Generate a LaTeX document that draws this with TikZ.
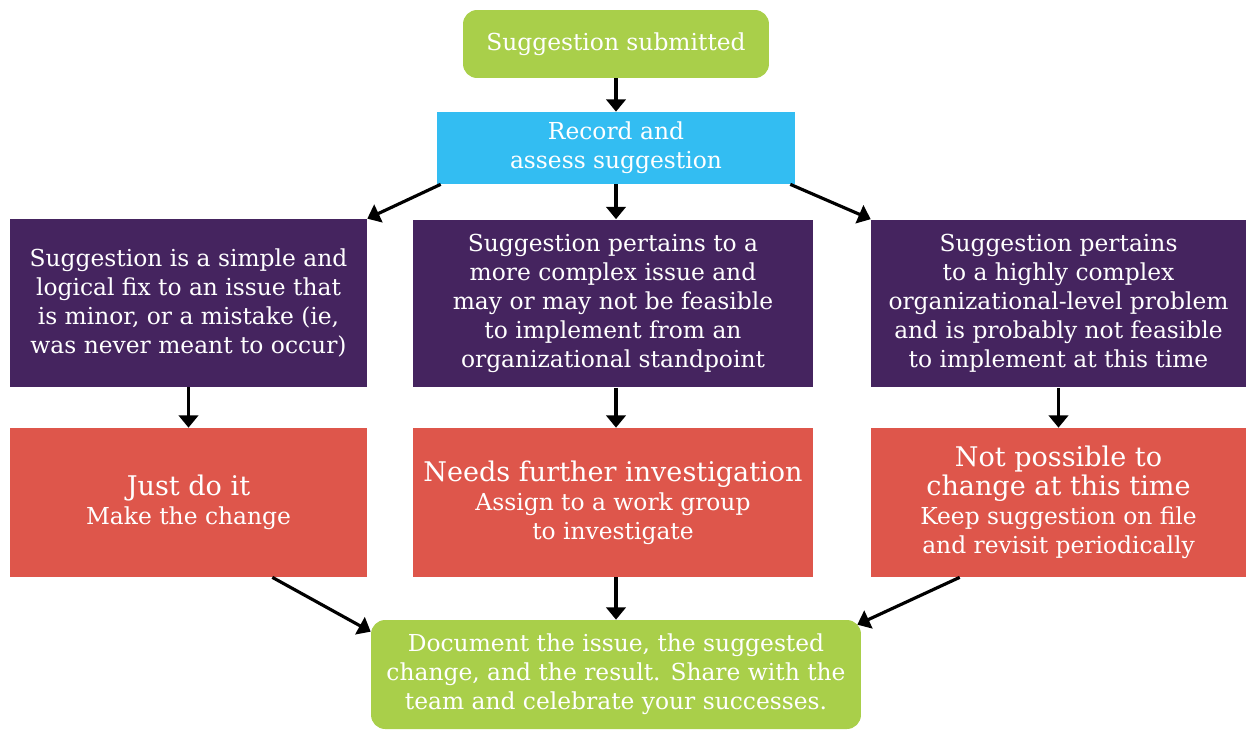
\documentclass[tikz,border=0pt]{standalone}
\usepackage{fontspec}
\setmainfont{DejaVu Serif}
\usetikzlibrary{arrows.meta,positioning}
\definecolor{sgreen}{HTML}{A9CF4A}
\definecolor{sblue}{HTML}{33BDF2}
\definecolor{spurple}{HTML}{45245F}
\definecolor{sred}{HTML}{DE564B}
\newcommand{\hdtext}[1]{{\fontsize{15.4}{18}\selectfont #1}}
\tikzset{
    gbox/.style={
    rectangle,rounded corners=8pt,fill=sgreen,text=white,align=center,
    font=\fontsize{13.3}{16.5}\selectfont
    },
    bbox/.style={
    rectangle,fill=sblue,text=white,align=center,
    font=\fontsize{13.3}{16.5}\selectfont
    },
    pbox/.style={
    rectangle,fill=spurple,text=white,align=center,minimum height=3.36cm,
    font=\fontsize{13.3}{16.5}\selectfont
    },
    rbox/.style={
    rectangle,fill=sred,text=white,align=center,minimum height=2.98cm,
    font=\fontsize{13.3}{16.5}\selectfont
    },
    arr/.style={
    -{Triangle[width=11pt,length=7pt]},line width=1.8pt,black
    },
}

\begin{document}
\begin{tikzpicture}[x=0.02cm, y=-0.02cm]
  \useasboundingbox (0,0) rectangle (1247,731);
  \node[gbox,minimum width=6.12cm,minimum height=1.36cm] (sub) at (616,44) {Suggestion submitted};
  \node[bbox,minimum width=7.16cm,minimum height=1.44cm] (rec) at (616,148) {Record and\\assess suggestion};

  \node[pbox,minimum width=7.14cm] (simple) at (188.5,303) {Suggestion is a simple and\\logical fix to an issue that\\is minor, or a mistake (ie,\\was never meant to occur)};
  \node[pbox,minimum width=8cm] (complex) at (613,303.5) {Suggestion pertains to a\\more complex issue and\\may or may not be feasible\\to implement from an\\organizational standpoint};
  \node[pbox,minimum width=7.5cm] (hcomplex) at (1058.5,303.5) {Suggestion pertains\\to a highly complex\\organizational-level problem\\and is probably not feasible\\to implement at this time};

  \node[rbox,minimum width=7.14cm] (doit) at (188.5,502.5) {\hdtext{Just do it}\\Make the change};
  \node[rbox,minimum width=8cm] (invest) at (613,502.5) {\hdtext{Needs further investigation}\\Assign to a work group\\to investigate};
  \node[rbox,minimum width=7.5cm] (nope) at (1058.5,502.5) {\hdtext{Not possible to}\\\hdtext{change at this time}\\Keep suggestion on file\\and revisit periodically};

  \node[gbox,minimum width=9.8cm,minimum height=2.18cm] (doc) at (616,674.5) {Document the issue, the suggested\\change, and the result. Share with the\\team and celebrate your successes.};

  \draw[arr] (sub) -- (rec);
  \draw[arr] ([xshift=0.08cm]rec.south west) -- (simple.north east);
  \draw[arr] (rec.south) -- (rec.south |- complex.north);
  \draw[arr] ([xshift=-0.1cm]rec.south east) -- (hcomplex.north west);
  \draw[arr] (simple) -- (doit);
  \draw[arr] (rec.south |- complex.south) -- (rec.south |- invest.north);
  \draw[arr] (hcomplex) -- (nope);
  \draw[arr] ([xshift=-1.9cm]doit.south east) -- ([yshift=-0.24cm]doc.north west);
  \draw[arr] (rec.south |- invest.south) -- (doc.north);
  \draw[arr] ([xshift=1.78cm]nope.south west) -- ([xshift=-0.08cm,yshift=-0.1cm]doc.north east);
\end{tikzpicture}
\end{document}
